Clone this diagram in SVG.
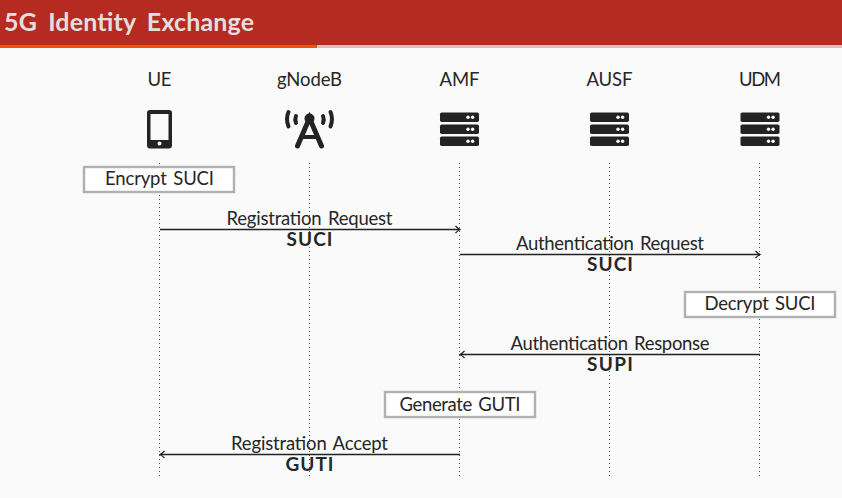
<svg xmlns="http://www.w3.org/2000/svg" width="842" height="498" viewBox="0 0 842 498">
<style>
text{font-family:Lato,"Open Sans","Liberation Sans",sans-serif;fill:#262626;text-anchor:middle}
.t{font-size:18.500px;word-spacing:2px}
.b{font-size:19px;font-weight:700}
.life{stroke:#555;stroke-width:1;stroke-dasharray:1 3;fill:none}
.msg{stroke:#222;stroke-width:1.700;fill:none}
.box{fill:#fff;stroke:#b0b0b0;stroke-width:2.400}
.ic{fill:#232323}
</style>
<defs>
<marker id="ah" markerUnits="userSpaceOnUse" markerWidth="10" markerHeight="10" refX="6" refY="5" orient="auto"><path d="M1.500 1.500Q4 4 6 5Q4 6 1.500 8.500" fill="none" stroke="#222" stroke-width="1.200"/></marker>
<g id="srv"><rect class="ic" x="0" y="0" width="39" height="9.600" rx="1.800"/><rect class="ic" x="0" y="12" width="39" height="9.600" rx="1.800"/><rect class="ic" x="0" y="24" width="39" height="9.600" rx="1.800"/><g fill="#fff"><circle cx="28" cy="4.800" r="1.700"/><circle cx="32.600" cy="4.800" r="1.700"/><circle cx="28" cy="16.800" r="1.700"/><circle cx="32.600" cy="16.800" r="1.700"/><circle cx="28" cy="28.800" r="1.700"/><circle cx="32.600" cy="28.800" r="1.700"/></g></g>
</defs>
<rect width="842" height="498" fill="#fafafa"/>
<g id="header">
<rect width="842" height="45" fill="#b52b22"/>
<rect y="45" width="317" height="3" fill="#f1500f"/>
<rect x="317" y="45" width="525" height="3" fill="#d5c3bb"/>
<text x="4" y="31" style="text-anchor:start;fill:#e4dfdf;font-size:25px;font-weight:700;word-spacing:5px" textLength="250" lengthAdjust="spacing">5G Identity Exchange</text>
</g>
<g id="connectors">
<path class="life" d="M159.500 163V477M309.500 163V477M459.500 163V477M609.500 163V477M759.500 163V477"/>
<path class="msg" d="M160 229.500H460" marker-end="url(#ah)"/>
<path class="msg" d="M460 254.500H760" marker-end="url(#ah)"/>
<path class="msg" d="M760 354.500H460" marker-end="url(#ah)"/>
<path class="msg" d="M460 454.500H160" marker-end="url(#ah)"/>
<text class="t" x="309.500" y="224.500" textLength="166" lengthAdjust="spacing">Registration Request</text>
<text class="b" x="309.500" y="246" textLength="46" lengthAdjust="spacing">SUCI</text>
<text class="t" x="610" y="249.500" textLength="188" lengthAdjust="spacing">Authentication Request</text>
<text class="b" x="610" y="271" textLength="46" lengthAdjust="spacing">SUCI</text>
<text class="t" x="610" y="349.500" textLength="199" lengthAdjust="spacing">Authentication Response</text>
<text class="b" x="610" y="371" textLength="46" lengthAdjust="spacing">SUPI</text>
<text class="t" x="309.500" y="449.500" textLength="157" lengthAdjust="spacing">Registration Accept</text>
<text class="b" x="309.500" y="471" textLength="48" lengthAdjust="spacing">GUTI</text>
</g>
<g id="ue"><text class="t" x="159.500" y="86" textLength="24" lengthAdjust="spacing">UE</text>
<path class="ic" fill-rule="evenodd" d="M150 110H169Q172 110 172 113V145Q172 148.500 169 148.500H150Q147 148.500 147 145V113Q147 110 150 110ZM150.500 114V140H168.500V114ZM159.500 141.500A2 2 0 1 0 159.501 145.500A2 2 0 1 0 159.500 141.500Z"/></g>
<g id="gnodeb"><text class="t" x="309.500" y="86" textLength="65" lengthAdjust="spacing">gNodeB</text>
<g fill="none" stroke="#232323" stroke-linecap="round"><path stroke-width="5" d="M297.500 146L309.500 118L321.500 146"/><path stroke-width="4" d="M303 137H316"/><path stroke-width="4" d="M288.500 112Q285.500 119 288.500 126.500M330.500 112Q333.500 119 330.500 126.500M296 116Q294.500 119.500 296 123M323 116Q324.500 119.500 323 123"/></g><circle class="ic" cx="309.500" cy="118.500" r="5"/></g>
<g id="amf"><text class="t" x="459.500" y="86" textLength="40" lengthAdjust="spacing">AMF</text><use href="#srv" x="440" y="112.500"/></g>
<g id="ausf"><text class="t" x="609.500" y="86" textLength="46" lengthAdjust="spacing">AUSF</text><use href="#srv" x="590" y="112.500"/></g>
<g id="udm"><text class="t" x="760" y="86" textLength="42" lengthAdjust="spacing">UDM</text><use href="#srv" x="740.500" y="112.500"/></g>
<g id="encrypt"><rect class="box" x="84" y="167" width="150" height="25"/><text class="t" x="159.500" y="184.500" textLength="109" lengthAdjust="spacing">Encrypt SUCI</text></g>
<g id="decrypt"><rect class="box" x="685" y="292" width="150" height="25"/><text class="t" x="760" y="309.500" textLength="111" lengthAdjust="spacing">Decrypt SUCI</text></g>
<g id="generate"><rect class="box" x="385" y="392" width="150" height="25"/><text class="t" x="460" y="410.500" textLength="121" lengthAdjust="spacing">Generate GUTI</text></g>
</svg>
